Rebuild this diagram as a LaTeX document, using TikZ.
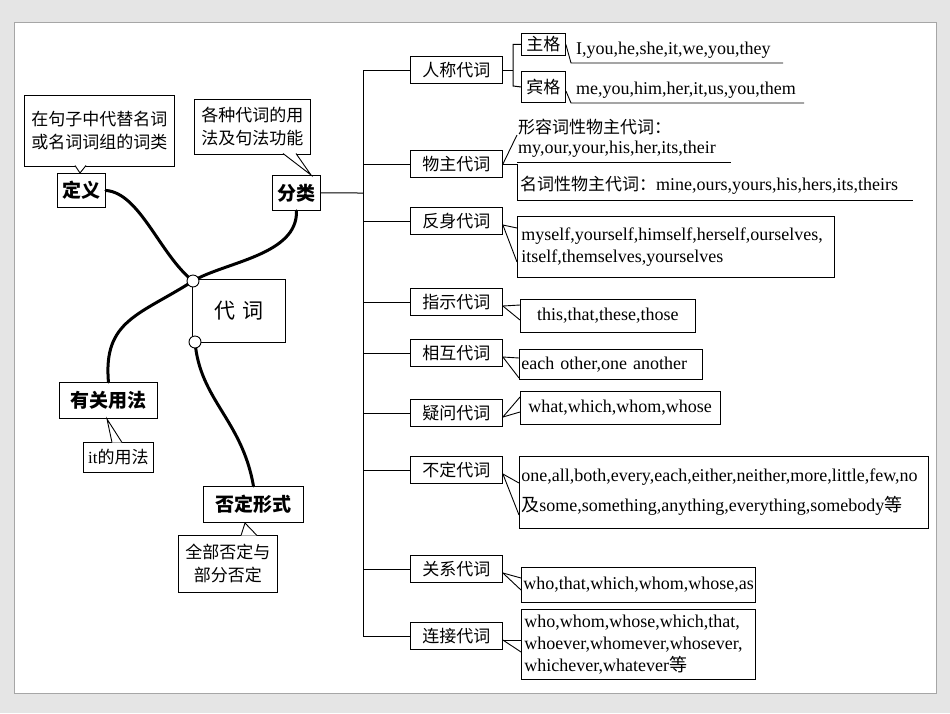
\documentclass[tikz,border=0pt]{standalone}
\usepackage{fontspec}
\setmainfont{Liberation Serif}
\newfontfamily\cjk{Noto Sans CJK SC}
\begin{document}
\begin{tikzpicture}[x=1pt,y=-1pt,
  box/.style={draw,line width=0.9pt,fill=white,inner sep=0pt},
  cat/.style={box,minimum width=92pt,minimum height=27pt,font=\cjk\fontsize{17}{19}\selectfont},
  key/.style={box,font=\cjk\bfseries\fontsize{19}{21}\selectfont},
  note/.style={box,font=\cjk\fontsize{17}{23}\selectfont,align=left},
  en/.style={font=\fontsize{18}{22}\selectfont},
  tl/.style={line width=0.9pt},
  thick line/.style={line width=3pt,line cap=round},
  br/.style={line width=1pt}]
\fill[gray!20] (0,0) rectangle (950,713);
\draw[gray!70,fill=white,line width=1pt] (14,22) rectangle (936,693);
% central
\node[box,minimum width=93pt,minimum height=63pt,anchor=north west,font=\cjk\fontsize{21}{23}\selectfont] (dc) at (192,279) {代\,\,词};
\coordinate (c1) at (193,281);
\coordinate (c2) at (195,342);
\node[key,minimum width=48pt,minimum height=34pt,anchor=north west] (dy) at (57,173) {定义};
\node[key,minimum width=48pt,minimum height=35pt,anchor=north west] (fl) at (272,175) {分类};
\node[key,minimum width=98pt,minimum height=36pt,anchor=north west] (yg) at (59,382) {有关用法};
\node[key,minimum width=100pt,minimum height=36pt,anchor=north west] (fd) at (203,486) {否定形式};
\draw[thick line] (dy.east) .. controls (140,193) and (160,255) .. (c1);
\draw[thick line] (fl.south) .. controls (298,255) and (225,262) .. (c1);
\draw[thick line] (c1) .. controls (140,315) and (103,320) .. (yg.north);
\draw[thick line] (c2) .. controls (200,400) and (242,420) .. (fd.north);
\draw[fill=white,line width=0.9pt] (c1) circle (6);
\draw[fill=white,line width=0.9pt] (c2) circle (6);
% callouts left
\node[note,minimum width=150pt,minimum height=71pt,anchor=north west,align=center] (n1) at (24,95) {在句子中代替名词\\或名词词组的词类};
\coordinate (t1) at (80,173);
\draw[tl,fill=white] (75,165.5) -- (t1) -- (86,165.5);
\node[note,minimum width=116pt,minimum height=55pt,anchor=north west,align=center] (n2) at (194,99) {各种代词的用\\法及句法功能};
\coordinate (t2) at (311,175);
\draw[tl,fill=white] (283,153.5) -- (t2) -- (296,153.5);
\node[note,minimum width=70pt,minimum height=30pt,anchor=north west] (n3) at (83,442) {\fontspec{Liberation Serif}it{\cjk 的用法}};
\coordinate (t3) at (107,419);
\draw[tl,fill=white] (112,442.5) -- (t3) -- (122,442.5);
\node[note,minimum width=99pt,minimum height=57pt,anchor=north west,align=center] (n4) at (178,535) {全部否定与\\部分否定};
\coordinate (t4) at (245,523);
\draw[tl,fill=white] (241,535.5) -- (t4) -- (257,535.5);
% tree
\coordinate (tr) at (363,193);
\draw[br] (fl.east) -- (tr);
\draw[br] (363,70) -- (363,636);
\foreach \n/\t/\y in {a/人称代词/70,b/物主代词/164,c/反身代词/221,d/指示代词/302,e/相互代词/353,f/疑问代词/413,g/不定代词/470,h/关系代词/569,i/连接代词/636}{
  \node[cat,anchor=west] (\n) at (410,\y) {\t};
  \draw[br] (363,\y) -- (\n.west);
}
% personal
\node[key,font=\cjk\fontsize{17}{19}\selectfont,minimum width=44pt,minimum height=22pt,anchor=north west] (zg) at (521,33) {主格};
\node[key,font=\cjk\fontsize{17}{19}\selectfont,minimum width=44pt,minimum height=31pt,anchor=north west] (bg) at (521,71) {宾格};
\draw[br] (a.east) -- (513,70);
\draw[br] (zg.west) -| (513,86) -- (bg.west);
\draw[tl] (zg.east) -- (571,63) -- (783,63);
\node[en,anchor=south west,inner sep=1pt] (zgt) at (575,60) {I,you,he,she,it,we,you,they};
\draw[tl] ([yshift=-4pt]bg.east) -- (571,103) -- (804,103);
\node[en,anchor=south west,inner sep=1pt] (bgt) at (575,100) {me,you,him,her,it,us,you,them};
% possessive
\node[anchor=south west,inner sep=1pt,font=\cjk\fontsize{17}{19}\selectfont] (wz1) at (517,136) {形容词性物主代词：};
\node[en,anchor=south west,inner sep=1pt] (wz2) at (517,159) {my,our,your,his,her,its,their};
\draw[tl] (b.east) -- (517,135);
\draw[tl] (517,162) -- (731,162);
\draw[tl] (b.east) -- (517,164) -- (517,200) -- (913,200);
\node[anchor=south west,inner sep=1pt] (wz3) at (519,196) {{\cjk\fontsize{17}{19}\selectfont 名词性物主代词：}{\fontsize{18}{20}\selectfont mine,ours,yours,his,hers,its,theirs}};
% text boxes
\node[box,en,anchor=north west,minimum width=317pt,minimum height=61pt,align=left,text width=309pt] (tc) at (517,216) {myself,yourself,himself,herself,ourselves,\\itself,themselves,yourselves};
\node[box,en,anchor=north west,minimum width=175pt,minimum height=33pt] (td) at (520,299) {this,that,these,those};
\node[box,en,anchor=north west,minimum width=183pt,minimum height=30pt,text width=179pt,align=left] (te) at (519,349) {each other,one another};
\node[box,en,anchor=north west,minimum width=200pt,minimum height=33pt,text width=190pt,align=left] (tf) at (520,391) {\,what,which,whom,whose};
\node[box,en,anchor=north west,minimum width=409pt,minimum height=72pt,text width=405pt,align=left,font=\fontsize{18}{30}\selectfont] (tg) at (519,456) {one,all,both,every,each,either,neither,more,little,few,no\\{\cjk 及}some,something,anything,everything,somebody{\cjk 等}};
\node[box,en,anchor=north west,minimum width=234pt,minimum height=35pt,text width=230pt,align=left] (th) at (521,567) {who,that,which,whom,whose,as};
\node[box,en,anchor=north west,minimum width=234pt,minimum height=70pt,text width=228pt,align=left] (ti) at (521,609) {who,whom,whose,which,that,\\whoever,whomever,whosever,\\whichever,whatever{\cjk 等}};
% wedges
\foreach \c/\b/\ya/\yb in {c/tc/228/262,d/td/305/320,e/te/358/378,f/tf/397/412,g/tg/483/515,h/th/578/590,i/ti/640/652}{
  \draw[tl] ([yshift=-4pt]\c.east) -- (\b.west|-0,\ya);
  \draw[tl] ([yshift=-4pt]\c.east) -- (\b.west|-0,\yb);
}
\end{tikzpicture}
\end{document}
